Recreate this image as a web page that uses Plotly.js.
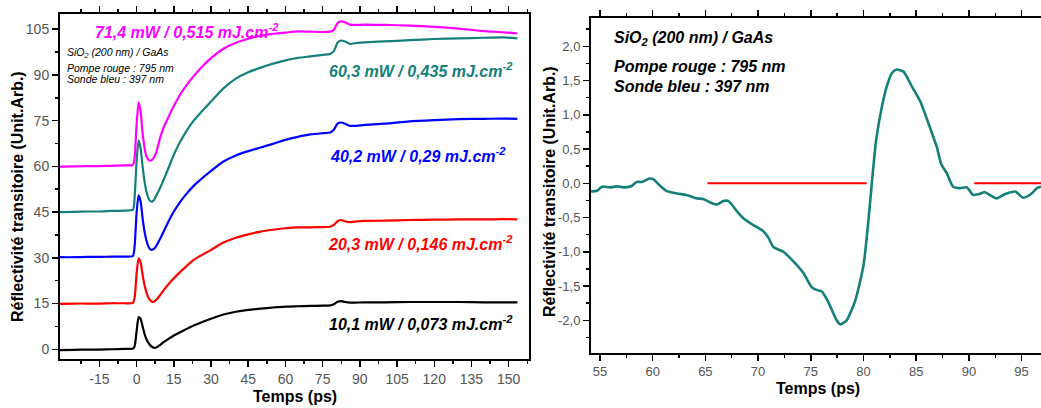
<!DOCTYPE html>
<html><head><meta charset="utf-8">
<script src="https://cdn.plot.ly/plotly-3.0.1.min.js"></script>
<style>html,body{margin:0;padding:0;background:#fff}</style>
</head><body><div id="chart" style="width:1041px;height:408px"></div>
<script>
// ---- Left panel: delay time (ps) ----
const timeL = [-31,-25,-20,-15,-10,-5,-1.5,-0.8,0,0.8,1.6,2.4,3.2,4,5,6,7,8,9.5,11,13,15,17.5,20,23,26,30,35,40,45,50,55,60,65,70,75,78,79.5,81,82.5,84,86,88,92,100,110,120,130,140,148,153.5];
// 71,4 mW (magenta)
const p714 = [59.9,60.0,60.1,60.1,60.2,60.3,60.5,63,74,81,78,71,66,63.2,62.0,62.0,63.0,64.8,69.5,73,76.5,79.8,83.5,86.5,89.6,92.4,95.5,98.6,100.6,101.9,102.9,103.5,103.9,104.3,104.2,104.1,104.2,104.8,107.0,107.6,107.3,106.5,106.4,106.5,106.4,106.2,105.8,105.2,104.4,104.0,103.6];
// 60,3 mW (teal)
const p603 = [45.0,45.1,45.2,45.2,45.4,45.5,45.8,50,62,68.5,66,60,55,51.5,49.2,48.4,49.0,50.5,53.0,55.8,59.8,63.8,68.0,71.5,75.0,77.8,81.3,85.6,88.8,90.9,92.4,93.7,94.8,95.6,96.1,96.6,96.9,97.8,100.6,101.3,101.0,100.2,100.4,100.7,101.0,101.4,101.8,102.0,102.2,102.3,102.0];
// 40,2 mW (blue)
const p402 = [30.2,30.2,30.3,30.3,30.4,30.4,30.6,34,45,50.5,48.5,43,38.5,35.5,33.3,32.6,32.9,34.0,36.3,38.8,42.2,45.2,48.3,50.9,53.6,55.8,58.5,61.6,63.6,65.0,66.2,67.4,68.7,69.7,70.5,70.9,71.1,72.0,74.0,74.4,74.0,73.3,73.3,73.6,74.0,74.8,75.2,75.5,75.6,75.7,75.6];
// 20,3 mW (red)
const p203 = [14.9,15.0,15.0,15.0,15.1,15.1,15.2,17,25,29.8,28.5,24.5,21,18.5,16.5,15.7,15.6,16.3,17.8,19.5,21.5,23.3,25.3,27.2,29.3,30.8,32.6,35.0,36.6,37.7,38.6,39.2,39.7,40.0,40.0,40.1,40.2,40.8,42.0,42.4,42.0,41.7,41.9,42.1,42.2,42.4,42.5,42.6,42.6,42.7,42.6];
// 10,1 mW (black)
const p101 = [-0.3,-0.2,-0.1,-0.1,0.0,0.1,0.2,1,6,10.5,10.0,7.5,5,3.2,1.8,0.9,0.5,0.6,1.4,2.4,3.5,4.5,5.6,6.6,7.8,8.8,10.0,11.4,12.3,12.9,13.3,13.7,14.0,14.1,14.2,14.3,14.4,14.8,15.6,15.8,15.5,15.3,15.3,15.4,15.4,15.5,15.5,15.5,15.4,15.4,15.4];

const leftXTicks = [-15,0,15,30,45,60,75,90,105,120,135,150];
const leftXText  = ['-15','0','15','30','45','60','75','90','105','120','135','150'];
const leftYTicks = [0,15,30,45,60,75,90,105];
const leftYText  = ['0','15','30','45','60','75','90','105'];

// ---- Right panel ----
const timeR = [54.15,54.7,55.2,55.95,56.6,57.4,58.0,58.5,59.0,59.4,59.75,60.05,60.7,61.3,62.3,63.2,64.2,64.8,65.45,66.1,66.7,67.2,68.0,68.6,69.55,70.5,71.0,71.45,72.4,73.35,74.3,75.1,75.6,76.05,76.65,77.45,77.8,78.4,79.2,80.0,80.5,80.85,81.2,81.75,82.2,82.7,83.15,83.8,84.6,85.4,86.15,86.95,87.4,87.9,88.5,89.15,89.8,90.4,90.9,91.5,92.1,92.65,93.4,94.4,95.15,95.95,96.45,96.84];
const signalR = [-0.12,-0.11,-0.05,-0.06,-0.045,-0.06,-0.04,0.02,0.02,0.05,0.07,0.06,-0.035,-0.11,-0.15,-0.17,-0.22,-0.23,-0.28,-0.31,-0.26,-0.26,-0.41,-0.51,-0.61,-0.70,-0.80,-0.93,-1.0,-1.14,-1.31,-1.52,-1.56,-1.58,-1.73,-2.0,-2.06,-2.0,-1.72,-1.2,-0.49,0.10,0.63,1.12,1.41,1.61,1.66,1.63,1.41,1.19,0.88,0.53,0.27,0.15,-0.05,-0.07,-0.06,-0.17,-0.16,-0.13,-0.18,-0.22,-0.16,-0.12,-0.21,-0.15,-0.07,-0.05];
const refX = [65.2,80.3,null,90.5,96.84];
const refY = [0,0,null,0,0];

const rightXTicks = [55,60,65,70,75,80,85,90,95];
const rightXText  = ['55','60','65','70','75','80','85','90','95'];
const rightYTicks = [-2,-1.5,-1,-0.5,0,0.5,1,1.5,2];
const rightYText  = ['-2,0','-1,5','-1,0','-0,5','0,0','0,5','1,0','1,5','2,0'];

const FONT = 'Liberation Sans, Arial, sans-serif';
const TEAL = '#148079';

function line(x, y, color, xa, ya, w) {
  return {x: x, y: y, type: 'scatter', mode: 'lines', xaxis: xa, yaxis: ya,
          line: {color: color, width: w, shape: 'spline', smoothing: 0.6}, hoverinfo: 'skip'};
}

const data = [
  line(timeL, p101, '#000000', 'x', 'y', 2.2),
  line(timeL, p203, '#ff0000', 'x', 'y', 2.2),
  line(timeL, p402, '#0000ff', 'x', 'y', 2.2),
  line(timeL, p603, TEAL, 'x', 'y', 2.2),
  line(timeL, p714, '#ff00ff', 'x', 'y', 2.2),
  {x: refX, y: refY, type: 'scatter', mode: 'lines', xaxis: 'x2', yaxis: 'y2',
   line: {color: '#ff0000', width: 2}, hoverinfo: 'skip'},
  line(timeR, signalR, TEAL, 'x2', 'y2', 2.6)
];

const axBase = {
  showgrid: false, zeroline: false, showline: true, linecolor: '#000', linewidth: 2,
  ticks: 'outside', ticklen: 6, tickwidth: 1.5, tickcolor: '#000',
  tickmode: 'array', fixedrange: true
};

const layout = {
  width: 1041, height: 408,
  margin: {l: 0, r: 0, t: 0, b: 0},
  paper_bgcolor: '#fff', plot_bgcolor: '#fff',
  showlegend: false,
  font: {family: FONT, color: '#000'},
  xaxis: Object.assign({}, axBase, {
    domain: [60/1041, 529/1041], range: [-30.9, 158.2], anchor: 'y',
    tickvals: leftXTicks, ticktext: leftXText, mirror: 'ticks',
    tickfont: {size: 14, color: '#555', family: FONT},
    minor: {tickvals: [-22.5,-7.5,7.5,22.5,37.5,52.5,67.5,82.5,97.5,112.5,127.5,142.5,157.5], ticklen: 3, tickwidth: 1.5, tickcolor: '#000', ticks: 'outside'}
  }),
  yaxis: Object.assign({}, axBase, {
    domain: [(408-359)/408, (408-14)/408], range: [-3.2, 110], anchor: 'x',
    tickvals: leftYTicks, ticktext: leftYText, mirror: true,
    tickfont: {size: 14, color: '#555', family: FONT},
    minor: {tickvals: [7.5,22.5,37.5,52.5,67.5,82.5,97.5], ticklen: 3, tickwidth: 1.5, tickcolor: '#000', ticks: 'outside'}
  }),
  xaxis2: Object.assign({}, axBase, {
    domain: [591/1041, 1], range: [54.15, 96.84], anchor: 'y2',
    tickvals: rightXTicks, ticktext: rightXText, mirror: 'ticks',
    tickfont: {size: 13, color: '#555', family: FONT},
    minor: {tickvals: [57.5,62.5,67.5,72.5,77.5,82.5,87.5,92.5], ticklen: 3, tickwidth: 1.5, tickcolor: '#000', ticks: 'outside'}
  }),
  yaxis2: Object.assign({}, axBase, {
    domain: [(408-352.7)/408, (408-17.5)/408], range: [-2.473, 2.42], anchor: 'x2',
    tickvals: rightYTicks, ticktext: rightYText, mirror: false,
    tickfont: {size: 13, color: '#555', family: FONT},
    minor: {tickvals: [-2.25,-1.75,-1.25,-0.75,-0.25,0.25,0.75,1.25,1.75,2.25], ticklen: 3, tickwidth: 1.5, tickcolor: '#000', ticks: 'outside'}
  }),
  annotations: [
    // axis titles
    {text: '<b>Réflectivité transitoire (Unit.Arb.)</b>', xref: 'paper', yref: 'paper', x: 18/1041, y: (408-197)/408,
     textangle: -90, showarrow: false, xanchor: 'center', yanchor: 'middle', font: {size: 16, family: FONT, color: '#000'}},
    {text: '<b>Temps (ps)</b>', xref: 'paper', yref: 'paper', x: 294.7/1041, y: (408-396.7)/408,
     showarrow: false, xanchor: 'center', yanchor: 'middle', font: {size: 16, family: FONT, color: '#000'}},
    {text: '<b>Réflectivité transitoire (Unit.Arb.)</b>', xref: 'paper', yref: 'paper', x: 549/1041, y: (408-192)/408,
     textangle: -90, showarrow: false, xanchor: 'center', yanchor: 'middle', font: {size: 16, family: FONT, color: '#000'}},
    {text: '<b>Temps (ps)</b>', xref: 'paper', yref: 'paper', x: 817.5/1041, y: (408-388)/408,
     showarrow: false, xanchor: 'center', yanchor: 'middle', font: {size: 16, family: FONT, color: '#000'}},
    // left panel labels
    {text: '<b><i>71,4 mW / 0,515 mJ.cm<sup>-2</sup></i></b>', xref: 'x', yref: 'y', x: -17.6, y: 104.5,
     showarrow: false, xanchor: 'left', yanchor: 'middle', font: {size: 16, family: FONT, color: '#ff00ff'}},
    {text: '<i>SiO<sub>2</sub> (200 nm) / GaAs</i>', xref: 'x', yref: 'y', x: -28.7, y: 97.3,
     showarrow: false, xanchor: 'left', yanchor: 'middle', font: {size: 10.5, family: FONT, color: '#000'}},
    {text: '<i>Pompe rouge : 795 nm</i>', xref: 'x', yref: 'y', x: -28.7, y: 92.3,
     showarrow: false, xanchor: 'left', yanchor: 'middle', font: {size: 10.5, family: FONT, color: '#000'}},
    {text: '<i>Sonde bleu : 397 nm</i>', xref: 'x', yref: 'y', x: -28.7, y: 88.7,
     showarrow: false, xanchor: 'left', yanchor: 'middle', font: {size: 10.5, family: FONT, color: '#000'}},
    {text: '<b><i>60,3 mW / 0,435 mJ.cm<sup>-2</sup></i></b>', xref: 'x', yref: 'y', x: 152.6, y: 91.6,
     showarrow: false, xanchor: 'right', yanchor: 'middle', font: {size: 16, family: FONT, color: TEAL}},
    {text: '<b><i>40,2 mW / 0,29 mJ.cm<sup>-2</sup></i></b>', xref: 'x', yref: 'y', x: 149.8, y: 63.7,
     showarrow: false, xanchor: 'right', yanchor: 'middle', font: {size: 16, family: FONT, color: '#0000ff'}},
    {text: '<b><i>20,3 mW / 0,146 mJ.cm<sup>-2</sup></i></b>', xref: 'x', yref: 'y', x: 152.6, y: 34.9,
     showarrow: false, xanchor: 'right', yanchor: 'middle', font: {size: 16, family: FONT, color: '#ff0000'}},
    {text: '<b><i>10,1 mW / 0,073 mJ.cm<sup>-2</sup></i></b>', xref: 'x', yref: 'y', x: 152.6, y: 8.6,
     showarrow: false, xanchor: 'right', yanchor: 'middle', font: {size: 16, family: FONT, color: '#000'}},
    // right panel labels
    {text: '<b><i>SiO<sub>2</sub> (200 nm) / GaAs</i></b>', xref: 'x2', yref: 'y2', x: 56.14, y: 2.12,
     showarrow: false, xanchor: 'left', yanchor: 'middle', font: {size: 16, family: FONT, color: '#000'}},
    {text: '<b><i>Pompe rouge : 795 nm</i></b>', xref: 'x2', yref: 'y2', x: 56.14, y: 1.70,
     showarrow: false, xanchor: 'left', yanchor: 'middle', font: {size: 16, family: FONT, color: '#000'}},
    {text: '<b><i>Sonde bleu : 397 nm</i></b>', xref: 'x2', yref: 'y2', x: 56.14, y: 1.41,
     showarrow: false, xanchor: 'left', yanchor: 'middle', font: {size: 16, family: FONT, color: '#000'}}
  ]
};

Plotly.newPlot('chart', data, layout, {displayModeBar: false, staticPlot: true});
</script>
</body></html>
